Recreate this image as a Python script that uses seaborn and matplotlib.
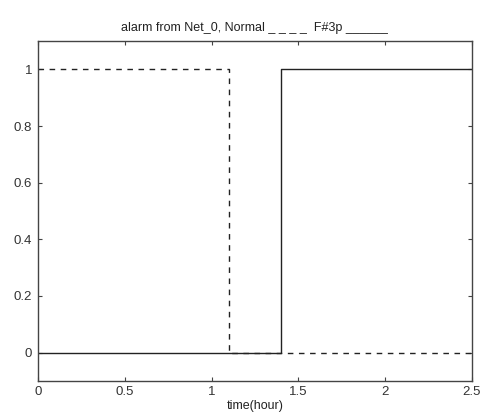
import matplotlib
matplotlib.use("Agg")
import matplotlib.pyplot as plt
import seaborn as sns
import pandas as pd

# data
normal_time = [0.0, 1.1, 2.5]
normal_alarm = [1, 0, 0]
fault_time = [0.0, 1.4, 2.5]
fault_alarm = [0, 1, 1]
x_ticks = [0, 0.5, 1, 1.5, 2, 2.5]
x_tick_labels = ["0", "0.5", "1", "1.5", "2", "2.5"]
y_ticks = [0, 0.2, 0.4, 0.6, 0.8, 1]
y_tick_labels = ["0", "0.2", "0.4", "0.6", "0.8", "1"]

sns.set_theme(style="white")
plt.rcParams["font.family"] = ["Liberation Sans", "DejaVu Sans"]

fig = plt.figure(figsize=(4.86, 4.2), dpi=100)
ax = fig.add_axes([0.078, 0.093, 0.893, 0.809])

df_n = pd.DataFrame({"t": normal_time, "v": normal_alarm})
df_f = pd.DataFrame({"t": fault_time, "v": fault_alarm})
sns.lineplot(data=df_n, x="t", y="v", ax=ax, color="#222222", linewidth=1.0,
             linestyle=(0, (4, 4)), drawstyle="steps-post")
sns.lineplot(data=df_f, x="t", y="v", ax=ax, color="#222222", linewidth=1.0,
             drawstyle="steps-post")

ax.set_xlim(0, 2.5)
ax.set_ylim(-0.1, 1.1)
ax.set_xticks(x_ticks)
ax.set_xticklabels(x_tick_labels)
ax.set_yticks(y_ticks)
ax.set_yticklabels(y_tick_labels)
ax.tick_params(direction="in", length=3, width=0.8, colors="#444444",
               labelcolor="#333333", labelsize=9.5, top=True, right=True,
               bottom=True, left=True, pad=4)
for s in ax.spines.values():
    s.set_color("#444444")
    s.set_linewidth(1.0)
ax.set_xlabel("time(hour)", fontsize=9, color="#222222", labelpad=1)
ax.set_ylabel("")
ax.set_title("alarm from Net_0, Normal _ _ _ _  F#3p ______", fontsize=9,
             color="#222222", pad=7)
fig.savefig("out.png", dpi=100, facecolor="white")
